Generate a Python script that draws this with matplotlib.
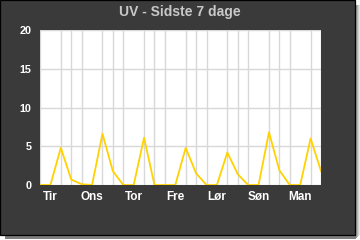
import matplotlib
matplotlib.use("Agg")
import matplotlib.pyplot as plt
from matplotlib.patches import Rectangle
import numpy as np

# UV index, one reading every 6 hours over 7 days
uv_values = [0, 0, 4.8, 0.7, 0.1, 0, 6.6, 1.8, 0, 0, 6.1, 0, 0, 0,
             4.8, 1.5, 0, 0, 4.2, 1.4, 0, 0, 6.8, 1.9, 0, 0, 6.0, 1.8]
day_labels = ["Tir", "Ons", "Tor", "Fre", "Lør", "Søn", "Man"]
day_positions = [1, 5, 9, 13, 17, 21, 25]
y_ticks = [0, 5, 10, 15, 20]

plt.rcParams["font.family"] = ["Liberation Sans", "DejaVu Sans"]

W, H = 360, 240
fig = plt.figure(figsize=(3.6, 2.4), dpi=100)
fig.patch.set_facecolor("white")

# soft drop shadow (right and bottom), lighter further out
shades = ["#e6e6e6", "#cfcfcf", "#b4b4b4", "#9a9a9a", "#7e7e7e"]
for k, c in enumerate(shades):
    off = 5 - k
    fig.patches.append(Rectangle(((5) / W, (off) / H), (350 + off) / W, (230 - off + 5) / H,
                                 transform=fig.transFigure, facecolor=c,
                                 edgecolor="none", zorder=-10 + k))
# dark panel with black edge
fig.patches.append(Rectangle((0, 5.5 / H), 355 / W, 234.5 / H,
                             transform=fig.transFigure, facecolor="#3a3a3a",
                             edgecolor="black", linewidth=0.9, zorder=-2))

ax = fig.add_axes([40 / W, 1 - 185 / H, 281 / W, 155 / H])
ax.set_facecolor("white")

x = np.arange(len(uv_values))
ax.plot(x, uv_values, color="#FFD200", linewidth=1.3, zorder=3)

ax.set_xlim(0, len(uv_values) - 1)
ax.set_ylim(0, 20)
ax.set_xticks(x, minor=True)
ax.set_xticks(day_positions)
ax.set_xticklabels(day_labels)
ax.set_yticks(y_ticks)
ax.set_yticklabels([str(v) for v in y_ticks])

ax.grid(True, which="minor", axis="x", color="#d8d8d8", linewidth=1.0)
ax.grid(True, which="major", axis="y", color="#d8d8d8", linewidth=1.0)
ax.set_axisbelow(True)

for spine in ax.spines.values():
    spine.set_visible(False)
ax.tick_params(which="both", length=0)
ax.tick_params(axis="x", pad=4, labelsize=8.5, labelcolor="white")
ax.tick_params(axis="y", pad=6, labelsize=7.8, labelcolor="white")
for lbl in ax.get_xticklabels() + ax.get_yticklabels():
    lbl.set_fontweight("bold")

fig.text(180 / W, 1 - 12 / H, "UV - Sidste 7 dage", ha="center",
         va="center", color="#c8c8c8", fontsize=10, fontweight="bold")

fig.savefig("out.png", dpi=100, facecolor=fig.get_facecolor())
